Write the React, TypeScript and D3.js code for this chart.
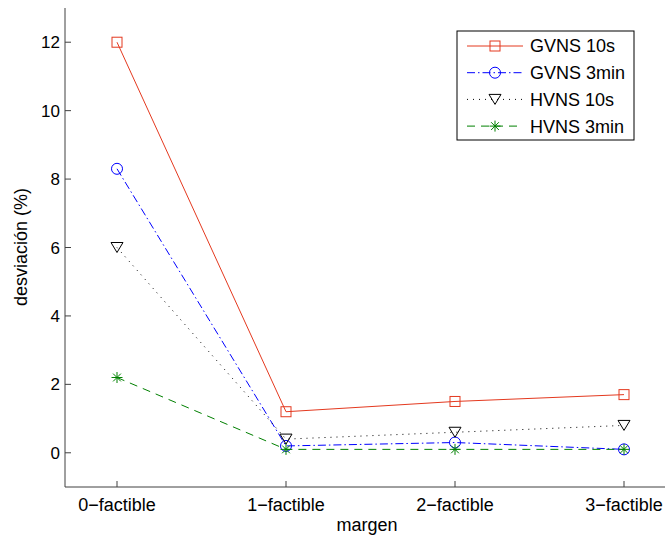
import React from "react";
import * as d3 from "d3";

const categories = ["0−factible", "1−factible", "2−factible", "3−factible"];
const gvns10s = [12, 1.2, 1.5, 1.7];
const gvns3min = [8.3, 0.2, 0.3, 0.1];
const hvns10s = [6, 0.4, 0.6, 0.8];
const hvns3min = [2.2, 0.1, 0.1, 0.1];
const yTicks = [0, 2, 4, 6, 8, 10, 12];
const seriesNames = ["GVNS 10s", "GVNS 3min", "HVNS 10s", "HVNS 3min"];

const W = 665, H = 537;
const x = d3.scaleLinear().domain([0, 3]).range([117, 624]);
const y = d3.scaleLinear().domain([-1, 13]).range([487, 8]);

type Marker = "square" | "circle" | "tri" | "star";
const series = [
  { name: seriesNames[0], values: gvns10s, color: "#e4391f", dash: "", marker: "square" as Marker },
  { name: seriesNames[1], values: gvns3min, color: "#0000ff", dash: "8,3,1.5,3", marker: "circle" as Marker },
  { name: seriesNames[2], values: hvns10s, color: "#000000", dash: "1,5", marker: "tri" as Marker },
  { name: seriesNames[3], values: hvns3min, color: "#008000", dash: "8,6", marker: "star" as Marker },
];

function MarkerShape({ type, cx, cy, color }: { type: Marker; cx: number; cy: number; color: string }) {
  if (type === "square") return <rect x={cx - 5} y={cy - 5} width={10} height={10} fill="none" stroke={color} strokeWidth={1} />;
  if (type === "circle") return <circle cx={cx} cy={cy} r={5.5} fill="none" stroke={color} strokeWidth={1} />;
  if (type === "tri") return <path d={`M${cx - 6},${cy - 5} L${cx + 6},${cy - 5} L${cx},${cy + 5} Z`} fill="none" stroke={color} strokeWidth={1} />;
  const r = 5.5;
  const lines = [0, 45, 90, 135].map((a) => {
    const rad = (a * Math.PI) / 180;
    return `M${cx - r * Math.cos(rad)},${cy - r * Math.sin(rad)} L${cx + r * Math.cos(rad)},${cy + r * Math.sin(rad)}`;
  });
  return <path d={lines.join(" ")} fill="none" stroke={color} strokeWidth={1} />;
}

export default function App() {
  const line = d3.line<number>().x((_, i) => x(i)).y((d) => y(d));
  const font = "'Liberation Sans', Arial, Helvetica, sans-serif";
  const axisColor = "#404040";
  return (
    <svg width={W} height={H} style={{ position: "absolute", left: 0, top: 0 }} fontFamily={font}>
      <rect x={0} y={0} width={W} height={H} fill="#fff" />
      <line x1={65} y1={8} x2={65} y2={487} stroke={axisColor} strokeWidth={1} />
      <line x1={65} y1={487} x2={W} y2={487} stroke={axisColor} strokeWidth={1} />
      {yTicks.map((t) => (
        <g key={t}>
          <line x1={65} x2={71} y1={y(t)} y2={y(t)} stroke={axisColor} />
          <text x={60} y={y(t)} dy="0.36em" textAnchor="end" fontSize={17} fill="#000">{t}</text>
        </g>
      ))}
      {categories.map((c, i) => (
        <g key={c}>
          <line x1={x(i)} x2={x(i)} y1={487} y2={481} stroke={axisColor} />
          <text x={x(i)} y={511} textAnchor="middle" fontSize={18} fill="#000">{c}</text>
        </g>
      ))}
      <text x={367} y={531} textAnchor="middle" fontSize={18} fill="#000">margen</text>
      <text transform={`translate(27,${247}) rotate(-90)`} textAnchor="middle" fontSize={18} fill="#000">desviación (%)</text>
      {series.map((s) => (
        <g key={s.name}>
          <path d={line(s.values) || ""} fill="none" stroke={s.color} strokeWidth={1} strokeDasharray={s.dash} />
          {s.values.map((v, i) => (
            <MarkerShape key={i} type={s.marker} cx={x(i)} cy={y(v)} color={s.color} />
          ))}
        </g>
      ))}
      <rect x={457} y={31} width={177} height={109} fill="#fff" stroke="#000" strokeWidth={1} />
      {series.map((s, i) => {
        const ly = 46 + i * 26.7;
        return (
          <g key={s.name}>
            <line x1={467} x2={523} y1={ly} y2={ly} stroke={s.color} strokeDasharray={s.dash} />
            <MarkerShape type={s.marker} cx={495} cy={ly} color={s.color} />
            <text x={530} y={ly} dy="0.36em" fontSize={18} fill="#000">{s.name}</text>
          </g>
        );
      })}
    </svg>
  );
}
